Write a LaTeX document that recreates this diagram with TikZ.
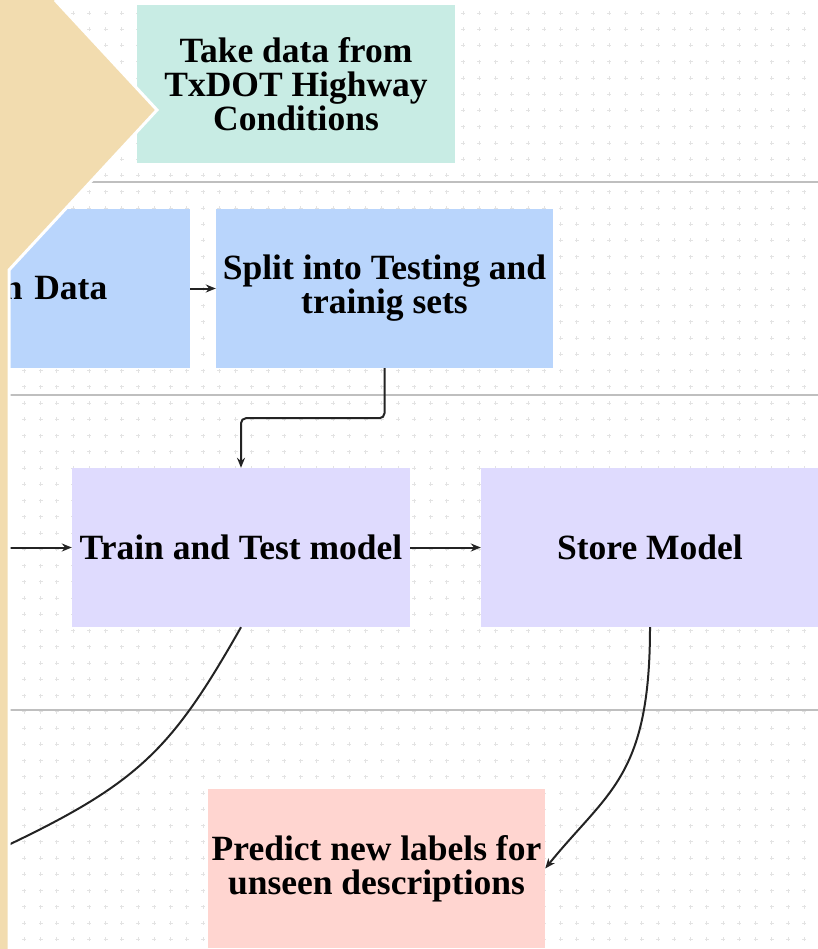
\documentclass[tikz,border=0pt]{standalone}
\usepackage{fontspec}
\setmainfont{Liberation Serif}
\usepackage{xcolor}
\usepackage{tikz}
\usetikzlibrary{arrows.meta}
\definecolor{Lane_teal}{RGB}{200,236,228}
\definecolor{Lane_blue}{RGB}{185,213,252}
\definecolor{Lane_lilac}{RGB}{223,219,254}
\definecolor{Lane_pink}{RGB}{255,213,208}
\definecolor{Panel_sand}{RGB}{242,220,175}
\definecolor{Flow_ink}{RGB}{35,35,35}
\usetikzlibrary{positioning,calc}

\begin{document}
\begin{tikzpicture}[x=1pt,y=-1pt,
    stepbox/.style={rectangle, minimum width=338, minimum height=159, inner sep=2,
        align=center, font=\fontsize{35.5}{34}\selectfont\bfseries},
    flow/.style={draw=Flow_ink, line width=2, -{Stealth[length=10,width=8]}},
    lane/.style={draw=gray!50, line width=2.2},
    dotgrid/.style={draw=gray!22, line width=0.8}]
        \useasboundingbox (0,0) rectangle (818,949);
        \clip (0,0) rectangle (818,949);
        % Dotted backdrop
        \foreach \i in {0,...,50} {
            \foreach \j in {0,...,58} {
                \draw[dotgrid] (8+16.25*\i,13+16.25*\j) +(-2,0) -- +(2,0) +(0,-2) -- +(0,2);
            }
        }
        % Lane borders
        \draw[lane] (0,182) -- (818,182);
        \draw[lane] (0,395) -- (818,395);
        \draw[lane] (0,710) -- (818,710);
        % Steps
        \node[stepbox, fill=Lane_teal, minimum width=318, minimum height=158] (take) at (296,84) {Take data from\\TxDOT Highway\\Conditions};
        \node[stepbox, fill=Lane_blue, minimum width=337] (split) at (384.5,288.5) {Split into Testing and\\trainig sets};
        \node[stepbox, fill=Lane_blue, minimum width=0, text width=186, inner xsep=1, align=left, anchor=east] (clean) at (190,288.5) {n Data};
        \node[stepbox, fill=Lane_lilac] (train) at (241,547.5) {Train and Test model};
        \node[stepbox, fill=Lane_lilac] (store) at (650,547.5) {Store Model};
        \node[stepbox, fill=Lane_pink, minimum width=337] (predict) at (376.5,868.5) {Predict new labels for\\unseen descriptions};
        % Loose ends
        \coordinate (in_train) at (0,547.5);
        \coordinate (out_train) at (4,847);
        % Connectors
        \draw[flow] (clean) -- (split);
        \draw[flow, rounded corners=5] (split.south) -- ++(0,50) -| (train.north);
        \draw[flow] (in_train) -- (train);
        \draw[flow] (train) -- (store);
        \draw[draw=Flow_ink, line width=2] (train.south) .. controls (172,749) and (139,783) .. (out_train);
        \draw[flow] (store.south) .. controls (650,777) and (608,791) .. (predict.east);
        % Side panel
        \fill[Panel_sand] (0,0) -- (55,0) -- (157,110) -- (9,270) -- (9,949) -- (0,949) -- cycle;
        \draw[white, line width=3] (55,0) -- (157,110) -- (9,270) -- (9,952);
\end{tikzpicture}
\end{document}
